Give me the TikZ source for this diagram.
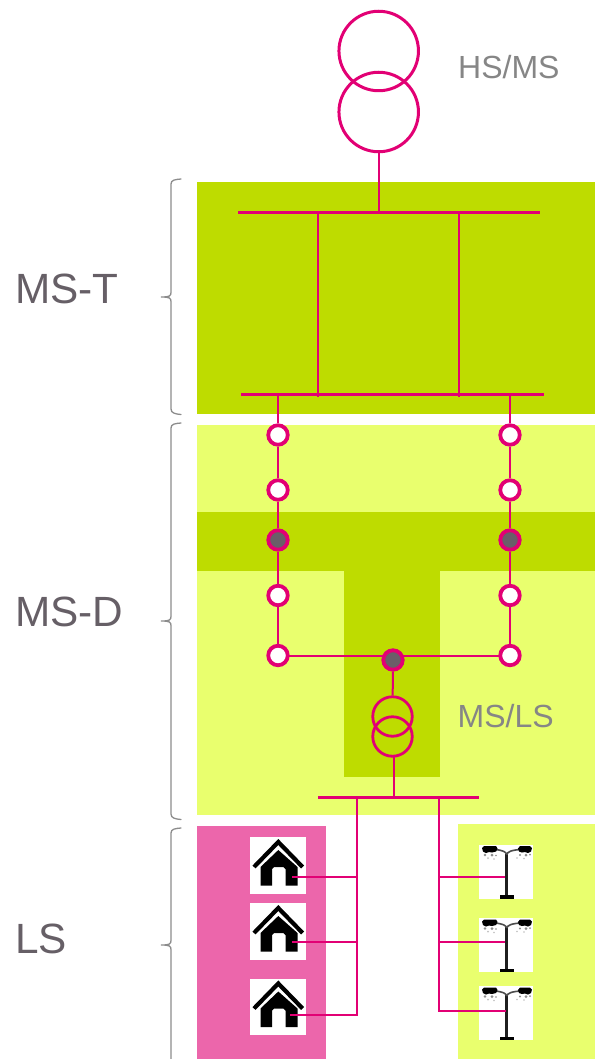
\documentclass[tikz,border=0pt]{standalone}
\usepackage{fontspec}
\setmainfont{Liberation Sans}
\definecolor{mag}{HTML}{E20074}
\definecolor{dgreen}{HTML}{BEDC00}
\definecolor{lgreen}{HTML}{E9FF6E}
\definecolor{pinkbg}{HTML}{EC66AB}
\definecolor{brace}{HTML}{8C8C8C}
\definecolor{txtd}{HTML}{665F66}
\definecolor{txtg}{HTML}{868686}
\definecolor{dotfill}{HTML}{6A5E68}
\tikzset{
  x=1pt,y=-1pt,
  wire/.style={draw=mag,line width=2pt},
  thinwire/.style={draw=mag,line width=1.8pt},
  bus/.style={draw=mag,line width=3pt},
  opensw/.style={circle,draw=mag,fill=white,line width=3.8pt,minimum size=19.5pt,inner sep=0pt},
  closedsw/.style={circle,draw=mag,fill=dotfill,line width=3.8pt,minimum size=19.5pt,inner sep=0pt},
  trafoB/.style={circle,draw=mag,line width=3pt,minimum size=79.5pt,inner sep=0pt},
  trafoS/.style={circle,draw=mag,line width=2.8pt,minimum size=39.5pt,inner sep=0pt},
  bigl/.style={anchor=base west,inner sep=0pt,text=txtd,font=\fontsize{42.3}{42}\selectfont},
  smalll/.style={anchor=base west,inner sep=0pt,text=txtg,font=\fontsize{32}{32}\selectfont},
  bracel/.style={draw=brace,line width=1.3pt,line cap=round},
  houseicon/.pic={
    \fill[white] (0,0) rectangle (56,56.5);
    \draw[black,line width=4.2pt,line join=miter] (4,30) -- (28.3,5) -- (52.6,30);
    \fill[black] (10.5,48.7) -- (10.5,30) -- (28.3,13) -- (47.5,30) -- (47.5,48.7) -- (35.5,48.7) -- (35.5,32) -- (33.5,30) -- (24,30) -- (22,32) -- (22,48.7) -- cycle;
  },
  lampicon/.pic={
    \fill[white] (0,0) rectangle (54,54);
    \draw[black!88,line width=3.2pt] (27.7,9) -- (27.7,52);
    \fill[black] (21,50.8) rectangle (34.5,54);
    \draw[black!70,line width=1.6pt] (27.7,10) .. controls (27,7.5) and (24,5.5) .. (15,5);
    \draw[black!70,line width=1.6pt] (27.7,10) .. controls (28.5,7.5) and (32,5.5) .. (42,5);
    \fill[black] (3,3.5) -- (5,1.5) -- (17,1.5) -- (18.5,4) -- (17,7) -- (13,8) -- (10,7.5) -- (7,8.5) -- (4,7) -- cycle;
    \fill[black] (39,4) -- (41,1.5) -- (51,1.5) -- (53,3.5) -- (52,7) -- (49,8.5) -- (46,7.5) -- (43,8) -- (40,7) -- cycle;
    \fill[black!45] (6,10.5) circle (1.3);
    \fill[black!45] (13,10.5) circle (1.5);
    \fill[black!45] (17,11) circle (.8);
    \fill[black!45] (41,10.5) circle (1.2);
    \fill[black!45] (47,10.5) circle (1.5);
    \fill[black!45] (51,10) circle (1);
    \fill[black!25] (9,13.5) circle (1);
    \fill[black!25] (15,14.5) circle (.8);
    \fill[black!25] (38,13.5) circle (.8);
    \fill[black!25] (45,14) circle (.9);
  }
}
\begin{document}
\begin{tikzpicture}
\useasboundingbox (0,0) rectangle (595,1059);
% zones
\fill[dgreen] (197,182) rectangle (595,414);
\fill[lgreen] (197,425) rectangle (595,815);
\fill[dgreen] (197,512) rectangle (595,571);
\fill[dgreen] (344,571) rectangle (440,777);
\fill[pinkbg] (197,826) rectangle (326,1059);
\fill[lgreen] (458,824) rectangle (595,1059);
% icons
\path (250,837) pic {houseicon};
\path (250,903) pic {houseicon};
\path (250,978.5) pic {houseicon};
\path (479,844.5) pic {lampicon};
\path (479,918) pic {lampicon};
\path (479,986) pic {lampicon};
% braces
\draw[bracel] (181,179) .. controls (175,179.5) and (171,180) .. (171,184) -- (171,292) .. controls (171,296) and (170,297) .. (161,297) .. controls (170,297) and (171,298) .. (171,302) -- (171,409) .. controls (171,413) and (175,414) .. (181,414.5);
\draw[bracel] (181,423) .. controls (175,423.5) and (171,424) .. (171,428) -- (171,616) .. controls (171,620) and (170,621) .. (161,621) .. controls (170,621) and (171,622) .. (171,626) -- (171,814) .. controls (171,818) and (175,819) .. (181,819.5);
\draw[bracel] (181,828) .. controls (175,828.5) and (171,829) .. (171,833) -- (171,940) .. controls (171,944) and (170,945) .. (161,945) .. controls (170,945) and (171,946) .. (171,950) -- (171,1059);
% labels
\node[bigl] (lt) at (15,303.5) {MS-T};
\node[bigl] (ld) at (15,626.7) {MS-D};
\node[bigl] (ll) at (15,953) {LS};
\node[smalll] (lh) at (458,79) {HS/MS};
\node[smalll] (lm) at (457.5,727) {MS/LS};
% transformers
\node[trafoB] (T1) at (378.7,51) {};
\node[trafoB] (T2) at (378.7,112) {};
\node[trafoS] (t1) at (392.5,716.5) {};
\node[trafoS] (t2) at (392.5,736.5) {};
% busbars
\coordinate (b1l) at (238,212.5); \coordinate (b1r) at (540,212.5);
\coordinate (b2l) at (241,394.5);   \coordinate (b2r) at (544,394.5);
\coordinate (b3l) at (318,797.5);   \coordinate (b3r) at (479,797.5);
\draw[bus] (b1l) -- (b1r);
\draw[bus] (b2l) -- (b2r);
\draw[bus] (b3l) -- (b3r);
% horizontal tie, drawn under its switches
\coordinate (hl) at (278,656); \coordinate (hr) at (510,656);
\draw[wire] (hl) -- (hr);
% switches
\foreach \n/\y in {1/435,2/490,4/595.5,5/655.5}{
  \node[opensw] (a\n) at (278,\y) {};
  \node[opensw] (c\n) at (510,\y) {};
}
\node[closedsw] (a3) at (278,540) {};
\node[closedsw] (c3) at (510,540) {};
\node[closedsw] (m) at (393,660) {};
% connectors
\coordinate (T2b) at (379,153);
\draw[wire] (T2b) -- (T2b |- b1l);
\coordinate (v1t) at (318,212.5); \coordinate (v1b) at (318,397);
\coordinate (v2t) at (459,212.5); \coordinate (v2b) at (459,397);
\draw[wire] (v1t) -- (v1b);
\draw[wire] (v2t) -- (v2b);
\coordinate (fa) at (278,394); \coordinate (fc) at (510,394);
\draw[wire] (fa) -- (a1);
\draw[wire] (a1) -- (a2);
\draw[wire] (a2) -- (a3);
\draw[wire] (a3) -- (a4);
\draw[wire] (a4) -- (a5);
\draw[wire] (fc) -- (c1);
\draw[wire] (c1) -- (c2);
\draw[wire] (c2) -- (c3);
\draw[wire] (c3) -- (c4);
\draw[wire] (c4) -- (c5);
\draw[wire] (m) -- (t1);
\coordinate (t2b) at (394,757); \coordinate (t2bus) at (394,797);
\draw[wire] (t2b) -- (t2bus);
% low voltage feeders
\coordinate (lv1) at (357,797); \coordinate (lv2) at (439,797);
\coordinate (h1) at (292,877); \coordinate (h2) at (292,942); \coordinate (h3) at (290,1015);
\coordinate (s1) at (505,877); \coordinate (s2) at (505,942); \coordinate (s3) at (505.5,1011);
\draw[wire] (lv1) -- (lv1 |- h3) -- (h3);
\draw[wire] (lv2) -- (lv2 |- s3) -- (s3);
\draw[thinwire] (h1) -- (lv1 |- h1);
\draw[thinwire] (h2) -- (lv1 |- h2);
\draw[thinwire] (s1) -- (lv2 |- s1);
\draw[thinwire] (s2) -- (lv2 |- s2);
\end{tikzpicture}
\end{document}
